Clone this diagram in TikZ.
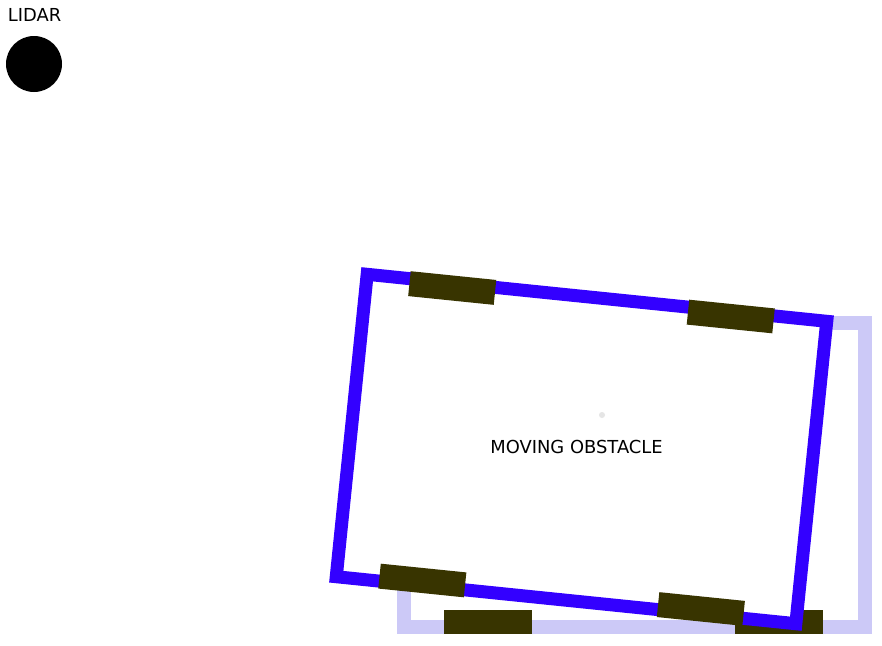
\documentclass[tikz,border=0pt]{standalone}
\usepackage{fontspec}
\setmainfont{DejaVu Sans}
\definecolor{carblue}{HTML}{3300FF}
\definecolor{ghostblue}{HTML}{CCC9F7}
\definecolor{tyre}{HTML}{383400}
\begin{document}
\begin{tikzpicture}[
  x=1pt, y=-1pt,
  label/.style={font=\fontsize{17.9}{20}\selectfont, inner sep=0pt, anchor=base},
  sensor/.style={circle, fill=black, minimum size=56pt, inner sep=0pt},
  ghostcar/.style={draw=ghostblue, line width=14pt},
  car/.style={draw=carblue, fill=white, line width=13pt, line join=miter},
  wheel/.style={fill=tyre}
]
  \useasboundingbox (0,0) rectangle (882,645);
  % lidar
  \node[label] (lidartxt) at (34.5,21) {LIDAR};
  \node[sensor] (lidar) at (34,64) {};
  % previous pose of the obstacle
  \draw[ghostcar] (404,323) rectangle (865,627);
  \fill[wheel] (444,610) rectangle (532,634);
  \fill[wheel] (735,610) rectangle (823,634);
  % current pose
  \begin{scope}[shift={(581.5,449)}, rotate=-5.84]
    \draw[car] (-231,-152) rectangle (231,152);
    \foreach \u/\v in {-145/-147, 135/-147, -145/147, 135/147}
      \fill[wheel] (\u-43,\v-12.5) rectangle (\u+43,\v+12.5);
  \end{scope}
  \fill[gray!20] (602,415) circle (3);
  \node[label] (obstacle) at (576.5,453) {MOVING OBSTACLE};
\end{tikzpicture}
\end{document}
